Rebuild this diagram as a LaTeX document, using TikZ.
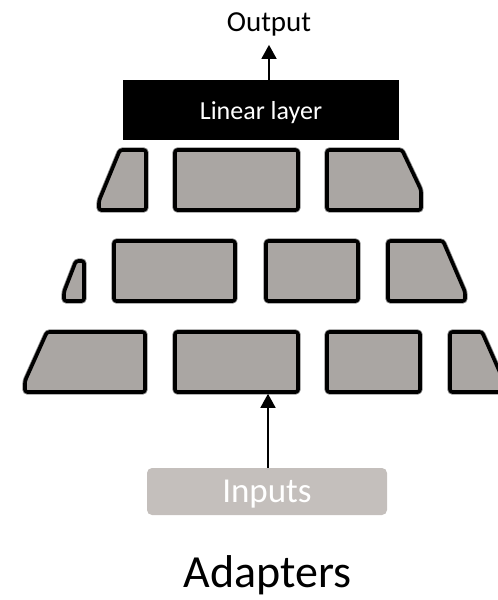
\documentclass[tikz,border=0pt]{standalone}
\usepackage{fontspec}
\setmainfont{Carlito}
\usetikzlibrary{arrows.meta}
\definecolor{blockgray}{HTML}{AAA6A3}
\definecolor{inputgray}{HTML}{C4BFBC}
\begin{document}
\begin{tikzpicture}[x=1pt,y=-1pt,
  blk/.style={fill=blockgray, draw=black, line width=3.6pt, rounded corners=2.5pt,
    line join=round, preaction={draw=black!45, line width=5.2pt, rounded corners=2.5pt}},
  blkbox/.style={blk, rectangle, inner sep=0pt, minimum height=60pt},
  arr/.style={line width=1.6pt, -{Triangle[length=14pt,width=15pt]}},
  lbl/.style={inner sep=0pt, anchor=base}]
\useasboundingbox (0,0) rectangle (498,600);
\begin{scope}
\clip (0,0) rectangle (498,600);

% top row of adapter blocks
\draw[blk] (120,150) -- (146,150) -- (146,210) -- (99,210) -- (99,201) -- cycle;
\node[blkbox, minimum width=123pt] (b12) at (236.5,180) {};
\draw[blk] (327,150) -- (402,150) -- (421,190) -- (421,210) -- (327,210) -- cycle;

% middle row
\draw[blk] (76,261) -- (84,261) -- (84,301) -- (64,301) -- (64,292) -- cycle;
\node[blkbox, minimum width=121pt] (b22) at (174.5,271) {};
\node[blkbox, minimum width=92pt] (b23) at (312,271) {};
\draw[blk] (388,241) -- (443,241) -- (465,292) -- (465,301) -- (388,301) -- cycle;

% bottom row
\draw[blk] (47,332) -- (145,332) -- (145,392) -- (25,392) -- (25,381) -- cycle;
\node[blkbox, minimum width=123pt] (b32) at (236.5,362) {};
\node[blkbox, minimum width=93pt] (b33) at (373.5,362) {};
\draw[blk] (450,332) -- (482,332) -- (505,384) -- (505,392) -- (450,392) -- cycle;
\end{scope}

% linear layer and output
\node[fill=black, text=white, rectangle, inner sep=0pt, minimum width=276pt,
  minimum height=60pt, text depth=0pt, font=\fontsize{26}{30}\selectfont] (lin) at (261,110) {Linear layer};
\node[lbl, font=\fontsize{29}{34}\selectfont] (out) at (269,31.7) {Output};
\draw[arr, shorten >=8.3pt] (out.south |- lin.north) -- (out.south);

% inputs
\node[fill=inputgray, rounded corners=5pt, inner sep=0pt, minimum width=240pt,
  minimum height=47pt, text=white, text depth=0pt, font=\fontsize{35}{40}\selectfont] (inp) at (267,491.5) {Inputs};
\draw[arr] ([xshift=1pt]inp.north) -- ([xshift=1pt]inp.north |- b32.south);

% caption
\node[lbl, font=\fontsize{46}{52}\selectfont] (title) at (267.5,587.5) {Adapters};
\end{tikzpicture}
\end{document}
